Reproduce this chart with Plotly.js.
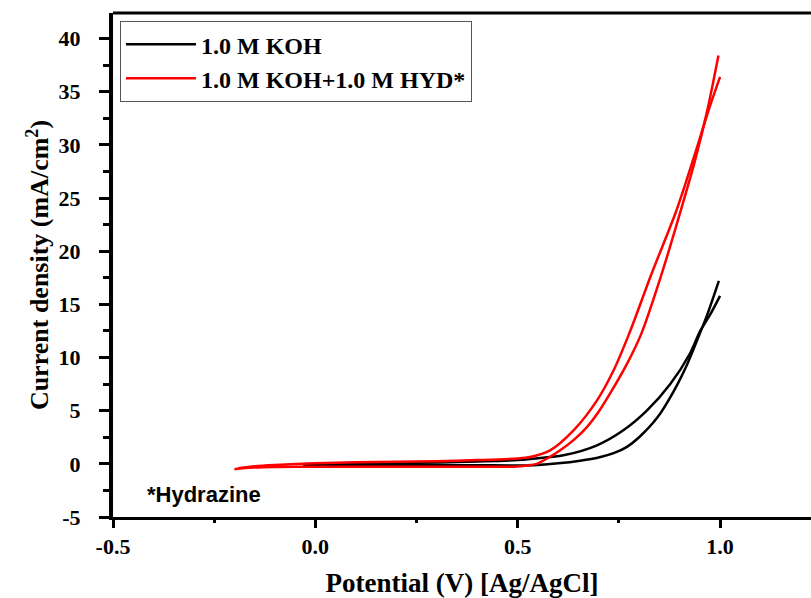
<!DOCTYPE html>
<html>
<head>
<meta charset="utf-8">
<script src="https://cdn.plot.ly/plotly-3.0.1.min.js"></script>
<style>
  html, body { margin: 0; padding: 0; background: #fff; overflow: hidden; }
  #chart { width: 811px; height: 598px; overflow: hidden; }
</style>
</head>
<body>
<div id="chart"></div>
<script>
// ---- Data (Potential V vs Ag/AgCl, current density mA/cm^2) ----
const seriesNames = ["1.0 M KOH", "1.0 M KOH+1.0 M HYD*"];

// 1.0 M KOH : anodic (forward) branch
const kohFwdV = [-0.03, 0.1, 0.2, 0.3, 0.4, 0.5, 0.55, 0.6, 0.654, 0.70, 0.737, 0.77, 0.80, 0.844, 0.885, 0.918, 0.942, 0.97, 0.997];
const kohFwdI = [-0.12, -0.12, -0.12, -0.12, -0.13, -0.15, -0.1, 0.05, 0.3, 0.6, 1.0, 1.6, 2.5, 4.3, 6.8, 9.3, 11.5, 14.2, 17.2];
// 1.0 M KOH : reverse branch
const kohRevV = [1.0, 0.975, 0.951, 0.926, 0.877, 0.819, 0.761, 0.696, 0.613, 0.531, 0.5, 0.4, 0.3, 0.2, 0.1, -0.03];
const kohRevI = [15.8, 14.0, 12.5, 10.4, 7.5, 5.0, 3.15, 1.74, 0.8, 0.45, 0.35, 0.22, 0.12, 0.08, 0.03, -0.05];

// 1.0 M KOH + 1.0 M hydrazine : forward branch
const hydFwdV = [-0.2, -0.18, -0.15, -0.1, 0.0, 0.1, 0.2, 0.3, 0.4, 0.5, 0.53, 0.547, 0.575, 0.605, 0.64, 0.671, 0.70, 0.728, 0.77, 0.805, 0.856, 0.905, 0.94, 0.97, 0.996];
const hydFwdI = [-0.5, -0.42, -0.35, -0.3, -0.27, -0.27, -0.28, -0.28, -0.28, -0.25, -0.12, 0.0, 0.55, 1.27, 2.3, 3.46, 4.9, 6.6, 9.4, 12.2, 17.9, 24.1, 28.8, 33.5, 38.4];
// 1.0 M KOH + 1.0 M hydrazine : reverse branch
const hydRevV = [1.0, 0.972, 0.945, 0.92, 0.889, 0.831, 0.775, 0.737, 0.696, 0.638, 0.58, 0.531, 0.5, 0.4, 0.3, 0.2, 0.1, 0.0, -0.1, -0.15, -0.19];
const hydRevI = [36.4, 33.3, 30.0, 27.0, 23.5, 17.9, 12.2, 8.8, 5.97, 3.15, 1.27, 0.64, 0.5, 0.35, 0.25, 0.2, 0.15, 0.05, -0.1, -0.22, -0.42];

const xTickVals = [-0.5, 0.0, 0.5, 1.0];
const xTickText = ["-0.5", "0.0", "0.5", "1.0"];
const yTickVals = [-5, 0, 5, 10, 15, 20, 25, 30, 35, 40];
const yTickText = ["-5", "0", "5", "10", "15", "20", "25", "30", "35", "40"];

// ---- Build traces (branches joined with a gap at the vertex) ----
function loop(fv, fi, rv, ri) {
  return { x: fv.concat([null], rv), y: fi.concat([null], ri) };
}
const koh = loop(kohFwdV, kohFwdI, kohRevV, kohRevI);
const hyd = loop(hydFwdV, hydFwdI, hydRevV, hydRevI);

const serif = "Liberation Serif, Times New Roman, serif";

const traces = [
  { x: koh.x, y: koh.y, name: seriesNames[0], type: "scatter", mode: "lines",
    line: { color: "#000000", width: 2.5, shape: "spline", smoothing: 0.8 }, connectgaps: false },
  { x: hyd.x, y: hyd.y, name: seriesNames[1], type: "scatter", mode: "lines",
    line: { color: "#ff0000", width: 2.5, shape: "spline", smoothing: 0.8 }, connectgaps: false }
];

const layout = {
  width: 811, height: 598,
  margin: { l: 113, r: 0, t: 13, b: 81, pad: 0 },
  paper_bgcolor: "#ffffff", plot_bgcolor: "#ffffff",
  showlegend: true,
  legend: {
    x: 0.01, y: 0.984, xanchor: "left", yanchor: "top",
    bordercolor: "#555555", borderwidth: 1, bgcolor: "#ffffff",
    font: { family: serif, size: 24, color: "#000", weight: "bold" },
    itemwidth: 70, tracegroupgap: 0
  },
  xaxis: {
    range: [-0.5, 1.2247], autorange: false,
    tickmode: "array", tickvals: xTickVals, ticktext: xTickText,
    ticks: "outside", ticklen: 8, tickwidth: 3, tickcolor: "#000",
    minor: { dtick: 0.25, tick0: -0.5, ticks: "outside", ticklen: 3, tickwidth: 3, tickcolor: "#000", showgrid: false },
    showline: true, linewidth: 3, linecolor: "#000", mirror: false,
    showgrid: false, zeroline: false,
    tickfont: { family: serif, size: 22, color: "#000", weight: "bold" },
    ticklabelstandoff: 0,
    title: { text: "<b>Potential (V) [Ag/AgCl]</b>", font: { family: serif, size: 27, color: "#000" }, standoff: 22 }
  },
  yaxis: {
    range: [-5, 42.4], autorange: false,
    tickmode: "array", tickvals: yTickVals, ticktext: yTickText,
    ticks: "outside", ticklen: 10, tickwidth: 3, tickcolor: "#000",
    minor: { dtick: 2.5, tick0: -5, ticks: "outside", ticklen: 6, tickwidth: 3, tickcolor: "#000", showgrid: false },
    showline: true, linewidth: 4, linecolor: "#000", mirror: false,
    showgrid: false, zeroline: false,
    tickfont: { family: serif, size: 22, color: "#000", weight: "bold" },
    ticklabelstandoff: 14,
    title: { text: "<b>Current density (mA/cm<sup>2</sup>)</b>", font: { family: serif, size: 26, color: "#000" }, standoff: 3 }
  },
  shapes: [
    { type: "line", xref: "paper", yref: "paper", x0: 0, x1: 1, y0: 1, y1: 1,
      line: { color: "#000", width: 3 }, layer: "above" }
  ],
  annotations: [
    { text: "<b>*Hydrazine</b>", xref: "paper", yref: "paper", x: 0.046, y: 0.045,
      xanchor: "left", yanchor: "middle", showarrow: false,
      font: { family: "Liberation Sans, Arial, sans-serif", size: 22, color: "#000" } }
  ]
};

Plotly.newPlot("chart", traces, layout, { displayModeBar: false, staticPlot: true });
</script>
</body>
</html>
